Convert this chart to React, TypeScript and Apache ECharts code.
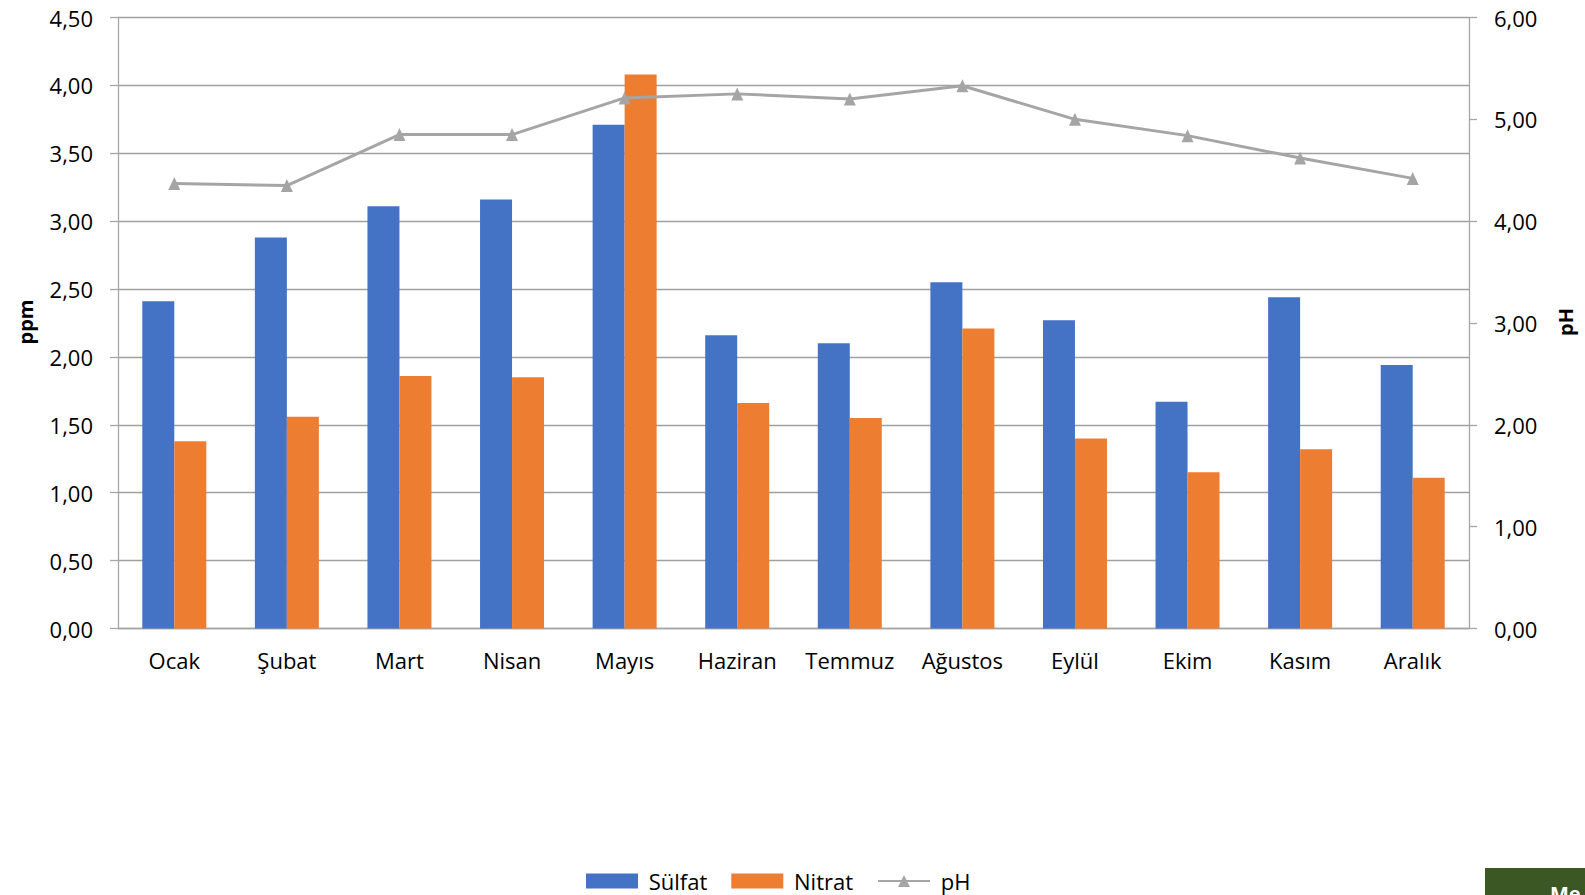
import React, { useEffect, useRef } from "react";
import * as echarts from "echarts";

// Monthly averages
const months = ["Ocak", "Şubat", "Mart", "Nisan", "Mayıs", "Haziran", "Temmuz", "Ağustos", "Eylül", "Ekim", "Kasım", "Aralık"];
const sulfat = [2.41, 2.88, 3.11, 3.16, 3.71, 2.16, 2.1, 2.55, 2.27, 1.67, 2.44, 1.94];
const nitrat = [1.38, 1.56, 1.86, 1.85, 4.08, 1.66, 1.55, 2.21, 1.4, 1.15, 1.32, 1.11];
const ph = [4.37, 4.35, 4.85, 4.85, 5.21, 5.25, 5.2, 5.33, 5.0, 4.84, 4.62, 4.42];

const FONT = "'Open Sans', 'Liberation Sans', sans-serif";
const fmt = (v: number) => v.toFixed(2).replace(".", ",");

export default function App() {
  const ref = useRef<HTMLDivElement>(null);

  useEffect(() => {
    if (!ref.current) return;
    const chart = echarts.init(ref.current, null, { renderer: "svg" });
    const axisLine = { show: true, lineStyle: { color: "#a6a6a6", width: 1.3 } };
    chart.setOption({
      animation: false,
      backgroundColor: "#ffffff",
      textStyle: { fontFamily: FONT },
      grid: { left: 118, right: 116, top: 17.5, bottom: 266.5, containLabel: false },
      legend: {
        data: [
          { name: "Sülfat", icon: "rect" },
          { name: "Nitrat", icon: "rect" },
          { name: "pH" },
        ],
        left: 581,
        top: 864,
        itemWidth: 52,
        itemHeight: 15,
        itemGap: 24,
        formatter: (name: string) => " " + name,
        textStyle: { fontFamily: FONT, fontSize: 22, lineHeight: 24, color: "#000" },
      },
      xAxis: {
        type: "category",
        data: months,
        axisTick: { show: false },
        axisLine,
        axisLabel: { fontFamily: FONT, fontSize: 22, color: "#000", margin: 20, interval: 0 },
      },
      yAxis: [
        {
          type: "value",
          min: 0,
          max: 4.5,
          interval: 0.5,
          axisLine,
          axisTick: { show: true, length: 8, lineStyle: { color: "#a6a6a6", width: 1.3 } },
          splitLine: { show: true, lineStyle: { color: "#a0a0a0", width: 1.3 } },
          axisLabel: { fontFamily: FONT, fontSize: 22, color: "#000", margin: 25, formatter: fmt },
        },
        {
          type: "value",
          min: 0,
          max: 6,
          interval: 1,
          position: "right",
          axisLine,
          axisTick: { show: true, length: 8, lineStyle: { color: "#a6a6a6", width: 1.3 } },
          splitLine: { show: false },
          axisLabel: { fontFamily: FONT, fontSize: 22, color: "#000", margin: 25, formatter: fmt },
        },
      ],
      series: [
        {
          name: "Sülfat",
          type: "bar",
          data: sulfat,
          barWidth: 32,
          barGap: "0%",
          itemStyle: { color: "#4472c4" },
        },
        {
          name: "Nitrat",
          type: "bar",
          data: nitrat,
          barWidth: 32,
          barGap: "0%",
          itemStyle: { color: "#ed7d31" },
        },
        {
          name: "pH",
          type: "line",
          yAxisIndex: 1,
          data: ph,
          symbol: "triangle",
          symbolSize: [12, 13],
          lineStyle: { color: "#a5a5a5", width: 3 },
          itemStyle: { color: "#a5a5a5" },
        },
      ],
      graphic: [
        {
          type: "text",
          x: 25,
          y: 322,
          rotation: Math.PI / 2,
          style: {
            text: "ppm",
            font: `bold 20px ${FONT}`,
            fill: "#000",
            textAlign: "center",
            textVerticalAlign: "middle",
          },
        },
        {
          type: "text",
          x: 1565,
          y: 322,
          rotation: Math.PI / 2,
          style: {
            text: "pH",
            font: `bold 20px ${FONT}`,
            fill: "#000",
            textAlign: "center",
            textVerticalAlign: "middle",
          },
        },
        {
          type: "rect",
          shape: { x: 1485, y: 868, width: 110, height: 40 },
          style: { fill: "#3b5724" },
        },
        {
          type: "text",
          x: 1550,
          y: 883,
          style: {
            text: "Me",
            font: `bold 20px ${FONT}`,
            fill: "#ffffff",
            textAlign: "left",
            textVerticalAlign: "top",
          },
        },
      ],
    });
    return () => chart.dispose();
  }, []);

  return (
    <div
      ref={ref}
      style={{ position: "fixed", left: 0, top: 0, width: 1585, height: 895, overflow: "hidden", background: "#fff" }}
    />
  );
}
